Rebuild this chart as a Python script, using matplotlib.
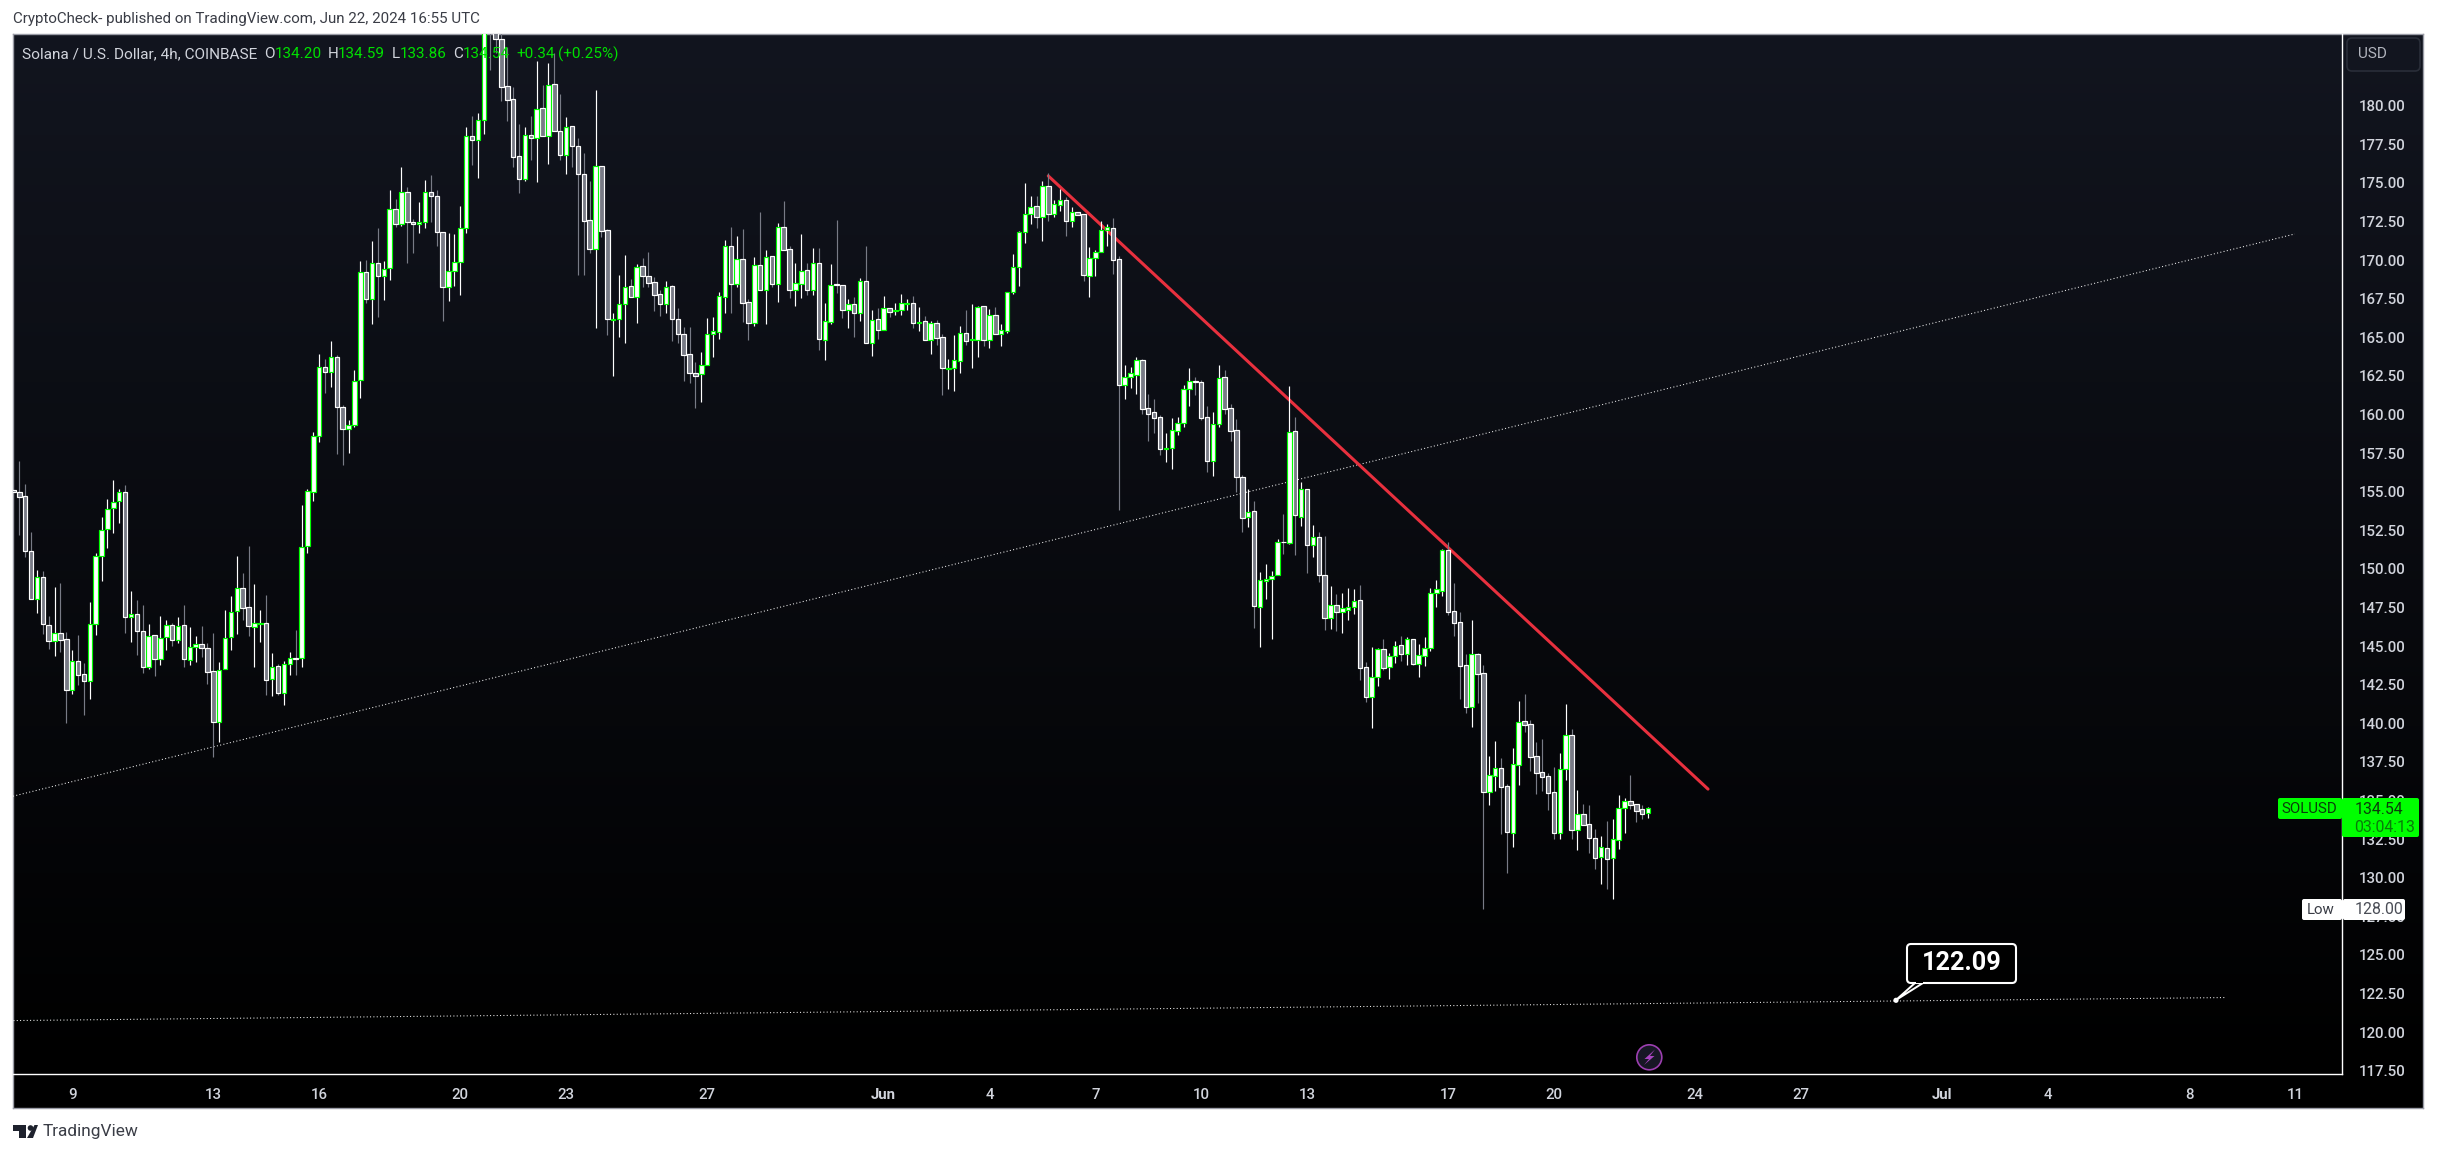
#!/usr/bin/env python
# -*- coding: utf-8 -*-
import numpy as np
import matplotlib
matplotlib.use('Agg')
import matplotlib.pyplot as plt
from matplotlib.patches import Circle, FancyBboxPatch, Polygon, Rectangle

W, H = 2437, 1153

opens = [
    155.09,154.96,154.70,151.14,148.03,149.45,146.35,145.31,145.83,145.44,
    142.14,144.01,143.17,142.72,146.41,150.82,152.56,153.92,154.38,154.96,
    146.86,147.06,145.96,143.63,145.70,144.14,145.57,146.35,145.38,146.35,
    144.08,144.92,145.12,144.86,143.37,140.06,143.50,145.57,147.25,148.74,
    147.51,146.22,146.45,146.48,142.85,143.69,141.94,143.82,144.21,144.21,
    151.46,155.00,158.61,163.10,162.73,163.70,160.46,159.09,159.35,162.23,
    169.25,167.46,169.79,168.99,169.51,173.29,172.32,174.43,172.47,172.32,
    172.45,174.39,174.13,171.80,168.28,169.32,169.90,172.10,178.02,177.76,
    179.05,186.20,184.90,184.30,181.25,180.41,176.72,175.27,178.12,177.89,
    179.83,178.06,181.38,178.34,176.83,178.66,177.37,175.60,172.58,170.70,
    176.07,171.93,166.10,166.21,167.18,168.30,167.63,169.60,168.95,168.56,
    167.78,167.18,168.30,166.21,165.24,163.90,162.71,162.61,163.23,165.24,
    165.37,167.64,170.90,168.48,170.05,167.27,165.95,169.67,168.05,170.25,
    168.48,172.13,170.70,168.09,168.48,169.34,168.09,169.80,164.85,166.02,
    168.43,168.37,166.79,167.14,166.54,168.63,164.66,166.17,165.50,166.88,
    166.68,166.75,167.18,167.20,165.95,166.04,164.85,165.91,165.00,162.97,
    163.03,163.49,165.26,164.85,164.85,167.01,164.85,166.43,165.24,165.43,
    167.90,169.54,171.80,172.97,173.49,172.82,174.78,173.01,173.55,173.88,
    172.56,173.10,172.97,168.98,170.12,170.50,171.93,172.06,170.05,161.93,
    162.45,162.58,163.51,160.40,160.14,159.81,157.77,157.80,158.95,159.43,
    161.63,162.17,162.08,159.81,157.00,159.36,162.41,160.40,158.97,155.93,
    153.34,153.73,147.51,149.20,149.32,149.58,151.74,151.70,158.91,153.34,
    155.15,151.53,152.09,149.58,146.80,147.64,147.19,147.36,147.51,147.96,
    143.62,141.70,142.98,144.79,143.62,144.33,145.05,144.51,145.44,143.86,
    144.34,144.90,148.42,148.59,151.20,147.25,146.54,143.75,141.08,144.47,
    143.24,135.53,136.61,137.08,135.92,132.92,137.28,140.13,139.93,137.86,
    136.82,136.57,135.53,132.92,137.06,139.22,133.11,134.10,133.46,132.55,
    131.36,131.90,131.30,132.46,134.54,134.95,134.75,134.43,134.20,
]
highs = [
    155.09,156.99,155.50,152.37,149.93,149.87,146.95,148.83,149.07,145.91,
    144.75,145.72,143.88,147.84,151.01,153.36,154.53,155.74,155.15,155.41,
    148.57,147.99,147.66,146.43,145.70,146.95,146.69,146.52,146.89,147.66,
    146.24,145.66,146.30,145.20,145.85,143.97,147.34,148.25,150.84,149.71,
    151.46,149.02,147.34,148.31,144.55,143.84,144.04,144.62,146.04,154.14,
    155.15,158.89,163.90,163.57,164.74,163.85,160.60,159.62,162.88,169.94,
    170.01,171.24,172.06,169.94,174.54,173.96,176.03,174.71,172.66,173.76,
    175.19,175.51,174.54,171.80,171.73,171.69,173.50,178.60,179.33,179.53,
    186.50,187.50,186.00,185.50,183.82,181.23,178.81,178.60,179.33,182.89,
    181.34,182.74,183.39,180.76,179.25,178.66,177.89,176.91,175.10,181.02,
    176.07,171.99,166.55,169.03,170.33,168.75,169.75,170.11,170.52,168.93,
    168.06,168.62,168.37,166.88,165.65,165.65,163.38,164.05,166.25,166.32,
    167.94,171.31,172.15,171.57,172.00,167.46,170.18,173.12,170.66,170.25,
    172.41,173.81,170.90,169.82,171.67,169.82,170.77,170.77,167.20,169.75,
    172.60,168.37,167.46,167.61,168.85,170.92,166.77,166.88,167.68,166.88,
    167.23,167.79,167.46,167.68,166.97,166.38,166.08,166.10,165.22,163.60,
    165.15,165.74,166.77,167.16,167.03,167.01,166.84,166.97,165.87,167.92,
    170.40,171.89,175.00,174.16,174.16,175.13,175.62,173.90,174.61,174.07,
    173.44,173.10,172.97,170.85,170.66,172.53,172.34,172.70,170.26,163.20,
    163.08,163.72,163.59,161.33,161.00,159.97,158.80,159.77,159.84,161.91,
    163.01,162.43,162.23,160.54,160.15,163.20,162.88,160.66,159.69,156.08,
    155.15,154.40,149.80,150.32,149.86,151.94,153.56,161.85,159.84,155.63,
    155.15,152.84,152.37,152.13,148.89,148.37,148.46,148.76,148.70,148.96,
    143.95,144.96,144.85,145.44,144.53,145.35,145.65,145.57,145.44,145.13,
    145.59,148.76,149.28,151.27,151.74,149.06,147.21,144.47,146.69,144.53,
    143.78,137.88,138.85,137.75,136.05,138.40,141.44,141.90,140.21,138.79,
    138.98,136.78,137.17,138.08,141.25,139.63,135.68,134.77,134.71,133.15,
    132.70,133.67,133.80,135.36,135.16,136.65,134.75,134.71,134.59,
]
lows = [
    154.96,152.20,150.79,148.03,147.17,145.78,144.81,144.38,144.62,140.02,
    141.90,142.48,140.54,141.57,145.72,149.22,151.36,152.33,152.97,145.85,
    145.27,144.43,143.26,143.52,143.06,143.78,144.75,145.01,145.20,143.65,
    143.78,143.97,144.30,142.55,137.82,138.81,143.50,144.75,145.78,146.69,
    145.66,143.65,145.27,141.83,141.77,141.83,141.19,143.13,143.13,143.65,
    151.05,154.37,158.21,161.37,161.80,157.47,156.74,157.53,159.20,161.09,
    167.20,165.86,166.34,167.41,168.71,172.12,172.21,169.83,170.46,171.75,
    172.08,172.47,170.91,166.06,167.35,168.32,167.74,171.75,176.16,175.32,
    178.17,182.31,183.39,180.30,179.03,176.05,174.32,175.14,176.48,175.08,
    178.06,176.22,178.34,176.48,175.58,176.05,169.03,169.03,170.44,165.62,
    171.52,165.15,162.51,165.04,164.65,167.63,165.95,168.28,168.28,166.70,
    166.38,166.55,164.78,164.61,162.17,162.02,160.40,160.81,163.23,163.75,
    164.92,166.58,166.58,168.28,166.00,164.83,165.76,168.05,165.87,168.24,
    167.29,170.64,167.55,167.03,167.55,167.74,167.74,164.18,163.53,165.87,
    167.87,166.25,165.61,165.02,166.06,164.66,163.79,164.89,165.50,166.32,
    166.45,166.45,166.77,165.61,165.39,164.85,163.92,164.53,161.27,161.66,
    161.53,162.69,164.51,163.02,163.73,164.46,164.31,165.24,164.44,165.30,
    167.81,168.33,171.11,172.34,172.08,171.24,172.54,172.80,173.18,171.57,
    172.15,172.95,168.65,167.61,168.97,170.50,170.91,169.10,153.81,161.00,
    161.71,161.33,160.03,158.28,158.80,157.38,156.90,156.50,158.66,159.19,
    160.55,161.26,159.64,156.30,156.00,159.20,160.03,158.30,155.00,152.41,
    152.73,146.19,144.96,148.07,145.48,149.58,150.99,151.63,150.88,152.80,
    149.71,150.79,149.13,146.04,146.13,146.00,145.87,146.69,147.08,142.80,
    141.40,139.70,142.40,143.45,142.86,143.92,144.01,143.78,143.78,143.02,
    143.73,144.68,147.53,148.24,147.01,145.65,141.57,140.69,139.78,141.30,
    127.99,134.71,135.64,132.83,130.30,132.01,136.00,139.44,136.91,135.42,
    135.62,134.38,132.51,132.51,136.33,132.51,131.79,133.43,131.60,130.56,
    129.59,129.27,128.62,131.86,132.90,134.45,133.61,133.80,133.86,
]
closes = [
    154.96,154.68,151.14,148.03,149.45,146.41,145.31,145.83,145.38,142.14,
    144.01,143.15,142.72,146.41,150.82,152.50,153.86,154.31,154.96,146.86,
    147.06,145.96,143.63,145.68,144.14,145.55,146.35,145.38,146.28,144.14,
    144.92,145.12,144.86,143.30,140.06,143.43,145.55,147.19,148.79,147.45,
    146.28,146.48,146.50,142.78,143.67,141.94,143.82,144.21,144.19,151.44,
    155.02,158.61,163.10,162.73,163.75,160.46,159.09,159.35,162.19,169.25,
    167.46,169.79,168.99,169.44,173.29,172.32,174.43,172.45,172.32,172.45,
    174.39,174.13,171.80,168.28,169.32,169.90,172.10,178.02,177.76,179.05,
    186.00,184.90,184.30,181.23,180.35,176.66,175.27,178.12,177.89,179.81,
    178.06,181.32,178.34,176.83,178.64,177.37,175.60,172.55,170.70,176.12,
    171.91,166.16,166.21,167.18,168.28,167.63,169.57,168.95,168.54,167.76,
    167.18,168.28,166.21,165.24,163.88,162.71,162.51,163.23,165.24,165.43,
    167.66,170.90,168.48,170.05,167.25,165.95,169.67,168.05,170.18,168.48,
    172.13,170.64,168.09,168.50,169.28,168.09,169.80,164.92,166.04,168.37,
    168.41,166.79,167.14,166.60,168.63,164.66,166.10,165.50,166.88,166.66,
    166.75,167.20,167.20,165.95,166.02,164.85,165.91,164.98,163.03,162.99,
    163.51,165.26,164.79,164.87,166.95,164.85,166.43,165.24,165.46,167.92,
    169.54,171.80,172.97,173.42,172.82,174.78,173.01,173.62,173.88,172.56,
    173.10,172.95,169.06,170.12,170.51,171.93,172.12,169.98,161.93,162.45,
    162.66,163.51,160.38,160.05,159.79,157.79,157.81,158.97,159.43,161.63,
    162.15,162.13,159.79,157.00,159.36,162.34,160.38,158.95,155.97,153.28,
    153.71,147.58,149.26,149.32,149.56,151.72,151.72,158.85,153.47,155.15,
    151.53,152.09,149.58,146.80,147.64,147.19,147.45,147.51,147.90,143.60,
    141.70,142.98,144.79,143.60,144.33,145.03,144.51,145.44,143.86,144.40,
    144.86,148.42,148.68,151.20,147.23,146.52,143.73,141.08,144.47,143.21,
    135.57,136.67,137.08,135.90,132.98,137.34,140.06,139.91,137.84,136.80,
    136.54,135.51,132.92,137.02,139.22,133.11,134.10,133.43,132.59,131.30,
    131.97,131.23,132.49,134.49,134.95,134.73,134.34,134.15,134.54,
]

# bar index of each date label (6 bars per day)
time_ticks = [10, 34, 52, 76, 94, 118, 148, 166, 184, 202, 220, 244, 262, 286, 304, 328, 346, 370, 388]
time_labels = ['9', '13', '16', '20', '23', '27', 'Jun', '4', '7', '10', '13', '17', '20', '24', '27', 'Jul', '4', '8', '11']
price_ticks = [117.5, 120, 122.5, 125, 127.5, 130, 132.5, 135, 137.5, 140, 142.5, 145, 147.5, 150, 152.5,
               155, 157.5, 160, 162.5, 165, 167.5, 170, 172.5, 175, 177.5, 180]

# drawings: (bar index, price) of both ends
red_x = [176.0, 288.2]
red_y = [175.45, 135.74]
channel_x = [-0.07, 388.0]
channel_y = [135.28, 171.69]
floor_x = [0.0, 376.1]
floor_y = [120.75, 122.24]

GREEN = '#00ff00'
GREY = '#787b86'
TEXT = '#d1d4dc'
FONT = 'Roboto'

plt.rcParams['font.family'] = FONT


def main():
    fig = plt.figure(figsize=(W / 100, H / 100), dpi=100, facecolor='white')

    # panel background, dark navy fading to black
    bg = fig.add_axes([13 / W, 1 - 1108 / H, 2410 / W, 1074 / H], zorder=0)
    top = np.array([0x12, 0x15, 0x1f]) / 255
    fade = np.clip(1 - np.linspace(0, 1074, 256) / 1040, 0, 1)
    bg.imshow(fade[:, None, None] * top[None, None, :], aspect='auto', extent=[0, 1, 0, 1])
    bg.set_xticks([])
    bg.set_yticks([])
    for s in bg.spines.values():
        s.set_color('#9a9ca6')
        s.set_linewidth(1.0)

    ax = fig.add_axes([13 / W, 1 - 1074 / H, 2329 / W, 1040 / H], zorder=1)
    ax.patch.set_alpha(0)
    ax.set_xlim(-0.068, 396.02)
    ax.set_ylim(117.29, 184.64)

    idx = np.arange(len(closes))
    o = np.array(opens)
    h = np.array(highs)
    l = np.array(lows)
    c = np.array(closes)
    up = c >= o

    dotted = (0, (1, 2.2))
    ax.plot(channel_x, channel_y, color='#f0f0f0', lw=0.75, ls=dotted, zorder=1)
    ax.plot(floor_x, floor_y, color='#f0f0f0', lw=0.75, ls=dotted, zorder=1)
    ax.plot(red_x, red_y, color='#e8303e', lw=2.2, zorder=1.5, solid_capstyle='round')

    ax.vlines(idx[~up], l[~up], h[~up], color=GREY, lw=0.85, zorder=2)
    ax.vlines(idx[up], l[up], h[up], color='white', lw=0.85, zorder=2)
    ax.bar(idx[~up], (o - c)[~up], bottom=c[~up], width=0.76, color=GREY, edgecolor='white', linewidth=0.85, zorder=3)
    ax.bar(idx[up], (c - o)[up], bottom=o[up], width=0.76, color='white', edgecolor=GREEN, linewidth=0.85, zorder=3)

    ax.set_xticks(time_ticks)
    ax.set_xticklabels(time_labels)
    ax.yaxis.tick_right()
    ax.set_yticks(price_ticks)
    ax.set_yticklabels(['%.2f' % p for p in price_ticks])
    ax.tick_params(axis='both', length=0, colors=TEXT, labelsize=10.8)
    ax.tick_params(axis='x', pad=10)
    ax.tick_params(axis='y', pad=12)
    for lab in ax.get_xticklabels():
        lab.set_fontweight('bold' if lab.get_text() in ('Jun', 'Jul') else 'medium')
    for lab in ax.get_yticklabels():
        lab.set_fontweight('medium')
    for side in ('left', 'top'):
        ax.spines[side].set_visible(False)
    for side in ('right', 'bottom'):
        ax.spines[side].set_color('white')
        ax.spines[side].set_linewidth(1.0)

    # overlay in image pixels for labels and chrome
    ov = fig.add_axes([0, 0, 1, 1], zorder=2)
    ov.set_xlim(0, W)
    ov.set_ylim(H, 0)
    ov.axis('off')

    ov.text(13, 19, 'CryptoCheck- published on TradingView.com, Jun 22, 2024 16:55 UTC', color='#3a3d46',
            fontsize=10.9, va='center', ha='left')

    # legend row
    y = 54
    ov.text(22, y, 'Solana / U.S. Dollar, 4h, COINBASE', color=TEXT, fontsize=11.1, va='center')
    legend_green = '#00e000'
    for x, s, col in [(264, 'O', TEXT), (275, '134.20', legend_green), (328, 'H', TEXT), (338, '134.59', legend_green),
                      (392, 'L', TEXT), (400, '133.86', legend_green), (453, 'C', TEXT), (463, '134.54', legend_green),
                      (516, '+0.34', legend_green), (558, '(+0.25%)', legend_green)]:
        ov.text(x, y, s, color=col, fontsize=11.0, va='center')

    # currency button
    ov.add_patch(FancyBboxPatch((2350, 41), 67, 27, boxstyle='round,pad=3,rounding_size=5', fc='#12151f', ec='#2a2e39', lw=1.2))
    ov.text(2358, 54.5, 'USD', color='#b2b5be', fontsize=11, va='center')

    # last price labels
    ov.add_patch(FancyBboxPatch((2280, 800), 60, 17, boxstyle='round,pad=2,rounding_size=2', fc=GREEN, ec='none'))
    ov.add_patch(FancyBboxPatch((2344, 800), 73, 35, boxstyle='round,pad=2,rounding_size=2', fc=GREEN, ec='none'))
    ov.text(2309, 809, 'SOLUSD', color='#0b3d0b', fontsize=10.8, va='center', ha='center')
    ov.text(2355, 809, '134.54', color='#0b3d0b', fontsize=11.4, va='center')
    ov.text(2354, 827, '03:04:13', color='#0a7a0a', fontsize=11.4, va='center')
    ov.add_patch(FancyBboxPatch((2304, 901), 36, 17, boxstyle='round,pad=2,rounding_size=2', fc='white', ec='none'))
    ov.add_patch(FancyBboxPatch((2345, 901), 58, 17, boxstyle='round,pad=2,rounding_size=2', fc='white', ec='none'))
    ov.text(2321, 909.5, 'Low', color='#3a3d46', fontsize=10.8, va='center', ha='center')
    ov.text(2355, 909.5, '128.00', color='#4a4d56', fontsize=11.4, va='center')

    # 122.09 callout
    ov.add_patch(Polygon([(1896, 1000), (1915, 983), (1923, 983)], closed=True, fc='black', ec='white', lw=1.4, zorder=4))
    ov.add_patch(FancyBboxPatch((1910, 947), 103, 33, boxstyle='round,pad=3,rounding_size=4', fc='black', ec='white', lw=1.5, zorder=5))
    ov.add_patch(Rectangle((1916, 979), 6.5, 4, fc='black', ec='none', zorder=6))
    ov.add_patch(Circle((1896, 1000.3), 2.6, fc='white', ec='none', zorder=6))
    ov.text(1961.5, 963.5, '122.09', color='white', fontsize=18.2, fontweight='bold', va='center', ha='center', zorder=7)

    # lightning badge
    ov.add_patch(Circle((1649.3, 1057.3), 12.5, fc='#171725', ec='#9c3fb0', lw=1.2, zorder=4))
    ov.add_patch(Polygon([(1655, 1049.5), (1644.5, 1059), (1649, 1059), (1644, 1065), (1654.5, 1056), (1650, 1056)],
                         closed=True, fc='#a845c0', ec='none', zorder=5))

    # TradingView logo
    logo = '#1e222d'
    ov.add_patch(Polygon([(13, 1125), (26, 1125), (26, 1138), (19, 1138), (19, 1131), (13, 1131)], closed=True, fc=logo, ec='none'))
    ov.add_patch(Circle((30.5, 1128), 2.8, fc=logo, ec='none'))
    ov.add_patch(Polygon([(27, 1138), (33, 1138), (38, 1125), (34.5, 1125)], closed=True, fc=logo, ec='none'))
    ov.text(43, 1131.5, 'TradingView', color='#3a3d46', fontsize=12.4, va='center')

    fig.savefig('out.png', dpi=100, facecolor='white')


if __name__ == '__main__':
    main()
